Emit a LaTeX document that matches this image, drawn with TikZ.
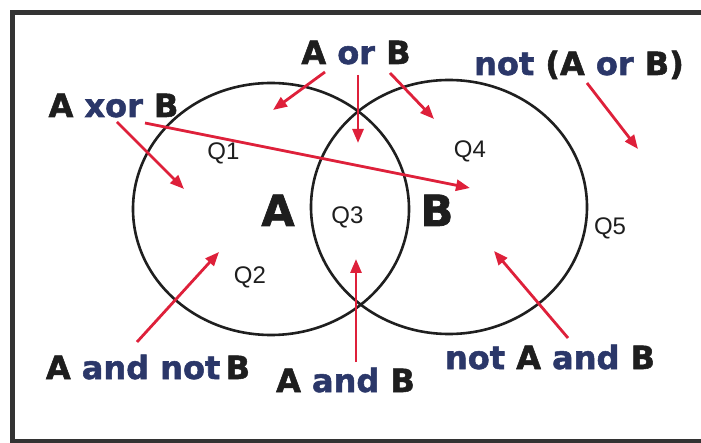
\documentclass[tikz,border=0pt]{standalone}
\usepackage{fontspec}
\setmainfont{Liberation Sans}
\newfontfamily\heavyfont{DejaVu Sans}[BoldFeatures={FakeBold=1.6}]
\usetikzlibrary{arrows.meta}
\definecolor{redarrow}{RGB}{222,32,58}
\definecolor{navy}{RGB}{43,55,105}
\definecolor{ink}{RGB}{30,30,30}
\newcommand{\myA}{\textcolor{ink}{A}}
\newcommand{\myB}{\textcolor{ink}{B}}
\begin{document}
\begin{tikzpicture}[x=1pt,y=-1pt,
  lbl/.style={font=\heavyfont\bfseries\fontsize{32}{36}\selectfont, text=navy, inner sep=0pt, anchor=base},
  big/.style={font=\heavyfont\bfseries\fontsize{43}{48}\selectfont, text=ink, inner sep=0pt, anchor=base},
  qlbl/.style={font=\fontsize{24}{28}\selectfont, text=ink, inner sep=0pt, anchor=base},
  arr/.style={draw=redarrow, line width=2.8pt, -{Triangle[length=14pt,width=11pt]}},
  ring/.style={draw=black!88, line width=2.6pt},
  frame/.style={draw=black!80, line width=5pt}]
\useasboundingbox (0,0) rectangle (701,443);
\clip (0,0) rectangle (701,443);
\fill[white] (0,0) rectangle (701,443);
% frame
\draw[frame] (12,12.5) rectangle (710,441.5);
% circles
\draw[ring] (271,209) ellipse [x radius=138, y radius=126];
\draw[ring] (449,207) ellipse [x radius=138, y radius=127];
% big letters
\node[big] (bigA) at (278,226) {A};
\node[big] (bigB) at (437,226) {B};
% region labels
\node[qlbl] (q1) at (223.5,160) {Q1};
\node[qlbl] (q2) at (250,284) {Q2};
\node[qlbl] (q3) at (347.5,224) {Q3};
\node[qlbl] (q4) at (470,158) {Q4};
\node[qlbl] (q5) at (610,235) {Q5};
% text labels
\node[lbl] (aorb) at (356,64) {\myA{} or \myB};
\node[lbl] (notaorb) at (579,75) {not \textcolor{ink}{(}\myA{} or \myB\textcolor{ink}{)}};
\node[lbl] (axorb) at (113.5,117) {\myA{} xor \myB};
\node[lbl] (aandnotb) at (148,379) {\myA{} and not\,\myB};
\node[lbl] (aandb) at (345.5,392) {\myA{} and \myB};
\node[lbl] (notaandb) at (550,369) {not \myA{} and \myB};
% arrow coordinates
\coordinate (s1) at (325,72);  \coordinate (e1) at (273,110);
\coordinate (s2) at (358,75);  \coordinate (e2) at (358,143);
\coordinate (s3) at (390,73);  \coordinate (e3) at (434,119);
\coordinate (s4) at (117,122); \coordinate (e4) at (184,189);
\coordinate (s5) at (145,123); \coordinate (e5) at (470,188);
\coordinate (s6) at (587,83);  \coordinate (e6) at (638,149);
\coordinate (s7) at (137,342); \coordinate (e7) at (219,252);
\coordinate (s8) at (356,362); \coordinate (e8) at (356,259);
\coordinate (s9) at (568,338); \coordinate (e9) at (494,251);
\draw[arr] (s1) -- (e1);
\draw[arr] (s2) -- (e2);
\draw[arr] (s3) -- (e3);
\draw[arr] (s4) -- (e4);
\draw[arr] (s5) -- (e5);
\draw[arr] (s6) -- (e6);
\draw[arr] (s7) -- (e7);
\draw[arr] (s8) -- (e8);
\draw[arr] (s9) -- (e9);
\end{tikzpicture}
\end{document}
